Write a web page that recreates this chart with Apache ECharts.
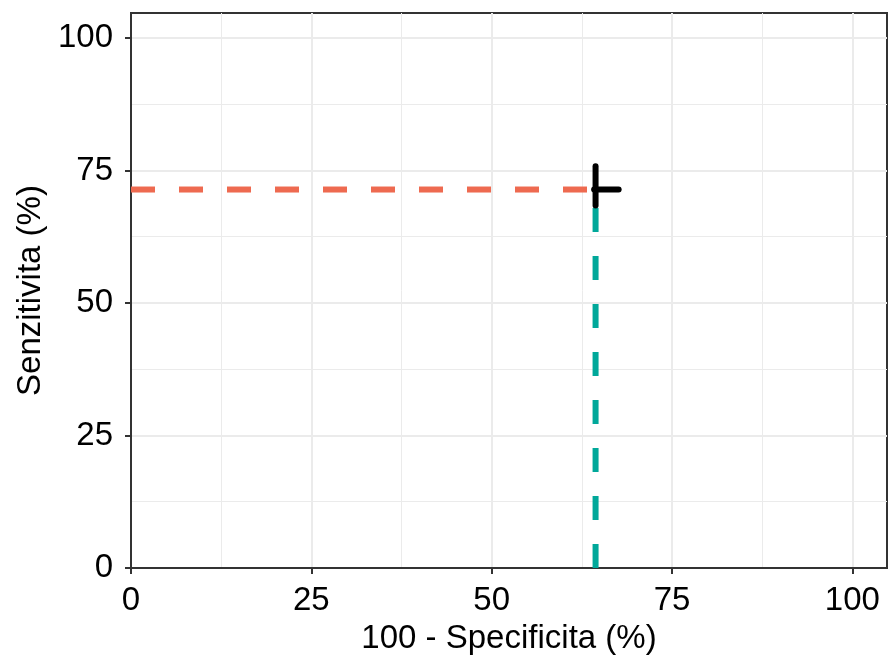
<!DOCTYPE html>
<html>
<head>
<meta charset="utf-8">
<script src="https://cdn.jsdelivr.net/npm/echarts@6/dist/echarts.min.js"></script>
<style>html,body{margin:0;padding:0;background:#fff}#c{width:889px;height:660px}</style>
</head>
<body>
<div id="c"></div>
<script>
// Data
const xTicks = [0, 25, 50, 75, 100];
const yTicks = [0, 25, 50, 75, 100];
const fpr = 64.4;          // 100 - specificity (%)
const sens = 71.4;         // sensitivity (%)
const fprRange = [64.2, 67.6];   // horizontal black segment
const sensRange = [68.4, 75.8];  // vertical black segment
const xName = '100 - Specificita (%)';
const yName = 'Senzitivita (%)';

const FONT = '"Liberation Sans", Arial, sans-serif';
const FS = 33;
const chart = echarts.init(document.getElementById('c'), null, {renderer: 'canvas'});
const axisCommon = {
  minorTick: {show: false, splitNumber: 2},
  splitLine: {show: true, lineStyle: {color: '#ebebeb', width: 2}},
  minorSplitLine: {show: true, lineStyle: {color: '#ebebeb', width: 1}},
  axisLine: {show: true, onZero: false, lineStyle: {color: '#333333', width: 2}},
  axisTick: {show: true, length: 6, lineStyle: {color: '#333333', width: 2}},
  nameLocation: 'middle',
  nameTextStyle: {fontFamily: FONT, fontSize: FS, color: '#000'}
};
chart.setOption({
  animation: false,
  grid: {left: 131, top: 13, right: 2, bottom: 90, show: true, borderColor: '#333333', borderWidth: 2, backgroundColor: '#fff', containLabel: false},
  xAxis: Object.assign({}, axisCommon, {
    type: 'value', min: 0, max: 104.8, interval: 25,
    name: xName, nameGap: 54,
    axisTick: Object.assign({}, axisCommon.axisTick, {customValues: xTicks}),
    axisLabel: {customValues: xTicks, fontFamily: FONT, fontSize: FS, color: '#000', margin: 16,
      formatter: v => xTicks.includes(v) ? String(v) : ''}
  }),
  yAxis: Object.assign({}, axisCommon, {
    type: 'value', min: 0, max: 104.7, interval: 25,
    name: yName, nameGap: 84,
    axisTick: Object.assign({}, axisCommon.axisTick, {customValues: yTicks}),
    axisLabel: {customValues: yTicks, fontFamily: FONT, fontSize: FS, color: '#000', margin: 18,
      formatter: v => yTicks.includes(v) ? String(v) : ''}
  }),
  series: [
    {type: 'line', data: [[0, sens], [fpr, sens]], symbol: 'none', silent: true,
      lineStyle: {color: '#EE6A50', width: 6, type: [24, 24], cap: 'butt'}, z: 2},
    {type: 'line', data: [[fpr, 0], [fpr, sens]], symbol: 'none', silent: true,
      lineStyle: {color: '#00A89A', width: 6, type: [24, 24], cap: 'butt'}, z: 2},
    {type: 'line', data: [[fpr, sensRange[0]], [fpr, sensRange[1]]], symbol: 'none', silent: true,
      lineStyle: {color: '#000', width: 6, cap: 'round'}, z: 3},
    {type: 'line', data: [[fprRange[0], sens], [fprRange[1], sens]], symbol: 'none', silent: true,
      lineStyle: {color: '#000', width: 6, cap: 'round'}, z: 3}
  ]
});
</script>
</body>
</html>
